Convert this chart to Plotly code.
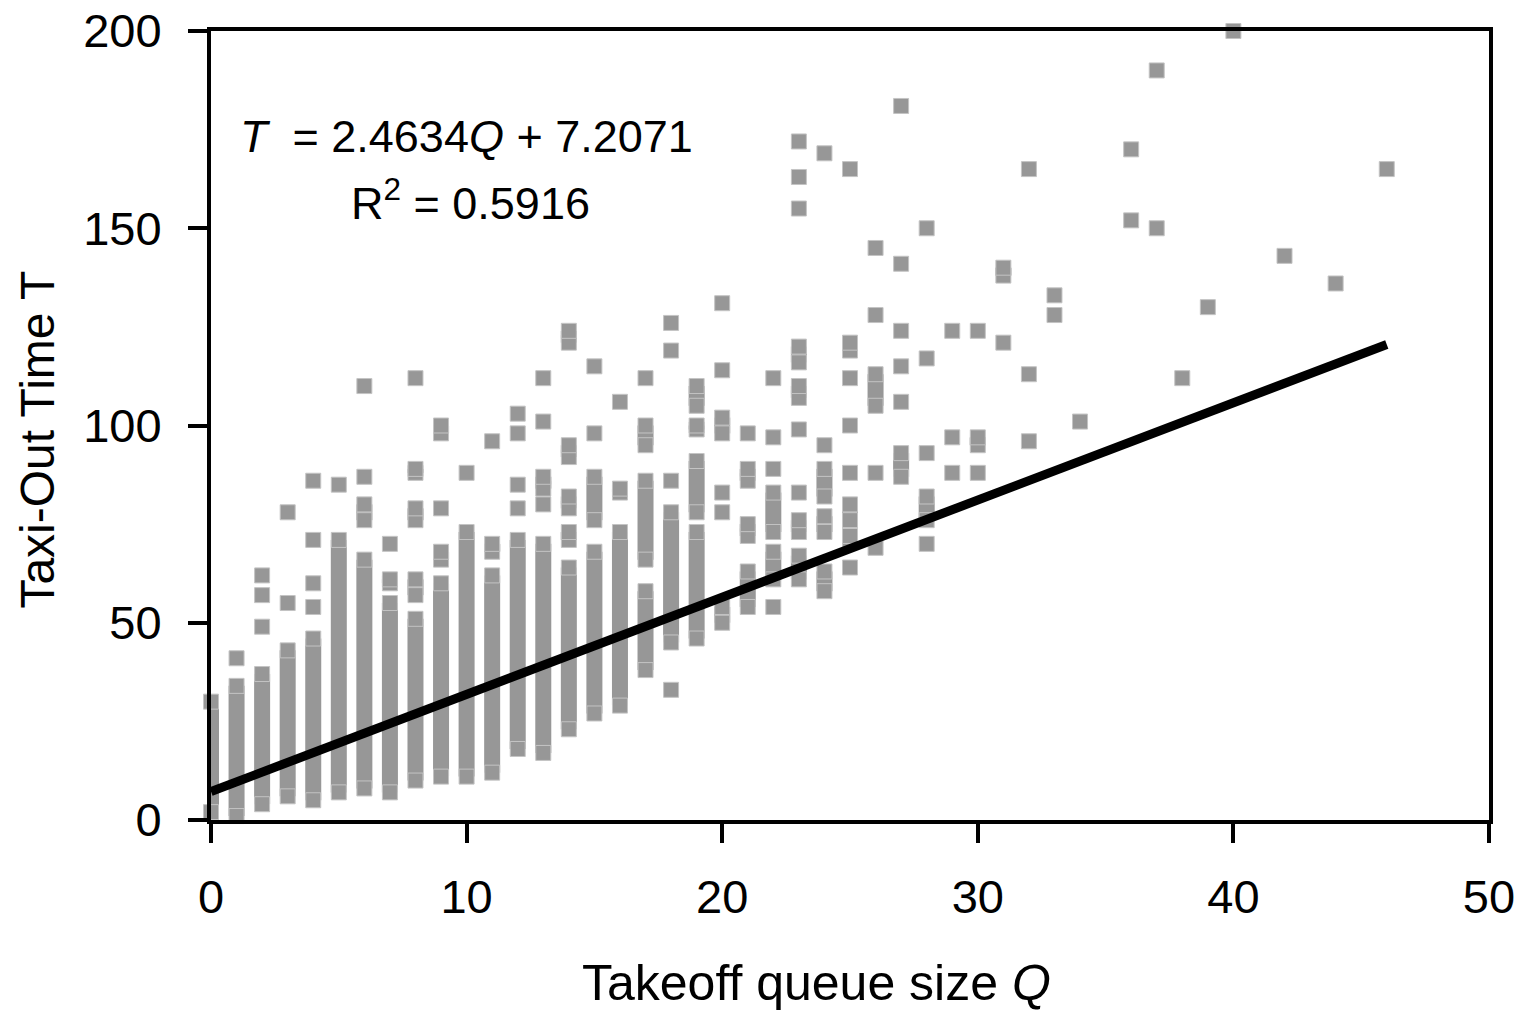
import plotly.graph_objects as go

# ---- data ----
# contiguous runs of observations (queue size, lowest T, highest T)
run_q  = [0, 1, 2, 3, 4, 5, 6, 6, 7, 7, 8, 8, 8, 8, 9, 9, 9, 10, 11, 11,
          12, 13, 13, 14, 14, 14, 14, 14, 15, 15, 16, 16, 17, 17, 17, 18,
          19, 19, 19, 19, 20, 20, 21, 21, 21, 22, 22, 23, 23, 23, 23,
          24, 24, 24, 25, 25, 25, 26, 27, 28, 30, 31]
run_lo = [2, 1, 4, 6, 5, 7, 76, 8, 60, 7, 88, 76, 57, 10, 98, 66, 11, 11, 68, 12,
          18, 84, 17, 121, 92, 79, 71, 23, 76, 27, 83, 29, 95, 66, 38, 45,
          105, 99, 78, 46, 98, 50, 86, 72, 54, 73, 61, 116, 107, 73, 61,
          82, 73, 58, 119, 76, 71, 105, 87, 76, 95, 138]
run_hi = [30, 34, 37, 43, 46, 71, 80, 66, 61, 55, 89, 79, 61, 51, 100, 68, 60, 73, 70, 62,
          71, 87, 70, 124, 95, 82, 73, 64, 87, 68, 84, 73, 100, 86, 58, 78,
          110, 100, 91, 73, 102, 54, 89, 75, 63, 83, 68, 120, 110, 76, 67,
          89, 77, 63, 121, 80, 72, 113, 93, 82, 97, 140]

# isolated observations (queue size, taxi-out time)
pt_q = [1, 2, 2, 2, 3, 3, 4, 4, 4, 4, 5, 6, 6, 7, 8, 9, 10, 11,
        12, 12, 12, 12, 13, 13, 13, 15, 15, 16, 17, 18, 18, 18, 18,
        20, 20, 20, 20, 21, 22, 22, 22, 22, 23, 23, 23, 23, 23,
        24, 24, 25, 25, 25, 25, 25, 26, 26, 26, 26, 27, 27, 27, 27, 27,
        28, 28, 28, 28, 29, 29, 29, 30, 30, 31, 32, 32, 32, 33, 33, 34,
        36, 36, 37, 37, 38, 39, 40, 42, 44, 46]
pt_t = [41, 62, 57, 49, 78, 55, 86, 71, 60, 54, 85, 110, 87, 70, 112, 79, 88, 96,
        103, 98, 85, 79, 112, 101, 80, 115, 98, 106, 112, 126, 119, 86, 33,
        131, 114, 83, 78, 98, 112, 97, 89, 54, 172, 163, 155, 99, 83,
        169, 95, 165, 112, 100, 88, 64, 145, 128, 88, 69, 181, 141, 124, 115, 106,
        150, 117, 93, 70, 124, 97, 88, 124, 88, 121, 165, 113, 96, 133, 128, 101,
        170, 152, 190, 150, 112, 130, 200, 143, 136, 165]

# fitted regression line T = a*Q + b
slope = 2.4634
intercept = 7.2071
fit_q = [0, 46]

x_ticks = [0, 10, 20, 30, 40, 50]
y_ticks = [0, 50, 100, 150, 200]

GRAY = "#979797"
EDGE = "#c4c4c4"
FONT = "Liberation Sans, Arial, sans-serif"

fig = go.Figure()

# contiguous runs of points drawn as thick vertical segments between end points
seg_x, seg_y = [], []
for q, lo, hi in zip(run_q, run_lo, run_hi):
    seg_x += [q, q, None]
    seg_y += [lo, hi, None]
fig.add_trace(go.Scatter(
    x=seg_x, y=seg_y, mode="lines", connectgaps=False,
    line=dict(color=GRAY, width=16),
    showlegend=False, hoverinfo="skip",
))

# all point markers (isolated points plus run end points)
all_q = pt_q + run_q + run_q
all_t = pt_t + run_lo + run_hi
fig.add_trace(go.Scatter(
    x=all_q, y=all_t, mode="markers",
    marker=dict(symbol="square", size=15, color=GRAY,
                line=dict(color=EDGE, width=1)),
    cliponaxis=False, showlegend=False,
))

# regression line
fig.add_trace(go.Scatter(
    x=fit_q, y=[slope * q + intercept for q in fit_q],
    mode="lines", line=dict(color="black", width=9),
    showlegend=False,
))

axis_common = dict(
    showline=True, linecolor="black", linewidth=4, mirror=True,
    ticks="outside", ticklen=19, tickwidth=3.5, tickcolor="black",
    showgrid=False, zeroline=False, automargin=False,
    ticklabeloverflow="allow",
    tickfont=dict(family=FONT, size=47, color="black"),
)

# page body has an 8px offset, so the figure is sized/margined to compensate
fig.update_layout(
    width=1521, height=1004,
    margin=dict(l=203, r=40, t=23, b=192),
    plot_bgcolor="white", paper_bgcolor="white",
    xaxis=dict(range=[0, 50], tickvals=x_ticks, ticklabelstandoff=14, **axis_common),
    yaxis=dict(range=[0, 200], tickvals=y_ticks, ticklabelstandoff=17, **axis_common),
    annotations=[
        dict(text="<i>T</i>&nbsp; = 2.4634<i>Q</i> + 7.2071", x=0.2003, y=0.8657,
             xref="paper", yref="paper", showarrow=False,
             xanchor="center", yanchor="middle",
             font=dict(family=FONT, size=45, color="black")),
        dict(text="R<sup>2</sup> = 0.5916", x=0.2027, y=0.786,
             xref="paper", yref="paper", showarrow=False,
             xanchor="center", yanchor="middle",
             font=dict(family=FONT, size=45, color="black")),
        dict(text="Takeoff queue size <i>Q</i>", x=0.474, y=-0.2066,
             xref="paper", yref="paper", showarrow=False,
             xanchor="center", yanchor="middle",
             font=dict(family=FONT, size=50, color="black")),
        dict(text="Taxi-Out Time T", x=-0.1365, y=0.4816, textangle=-90,
             xref="paper", yref="paper", showarrow=False,
             xanchor="center", yanchor="middle",
             font=dict(family=FONT, size=48, color="black")),
    ],
)

fig.write_html("out.html")
